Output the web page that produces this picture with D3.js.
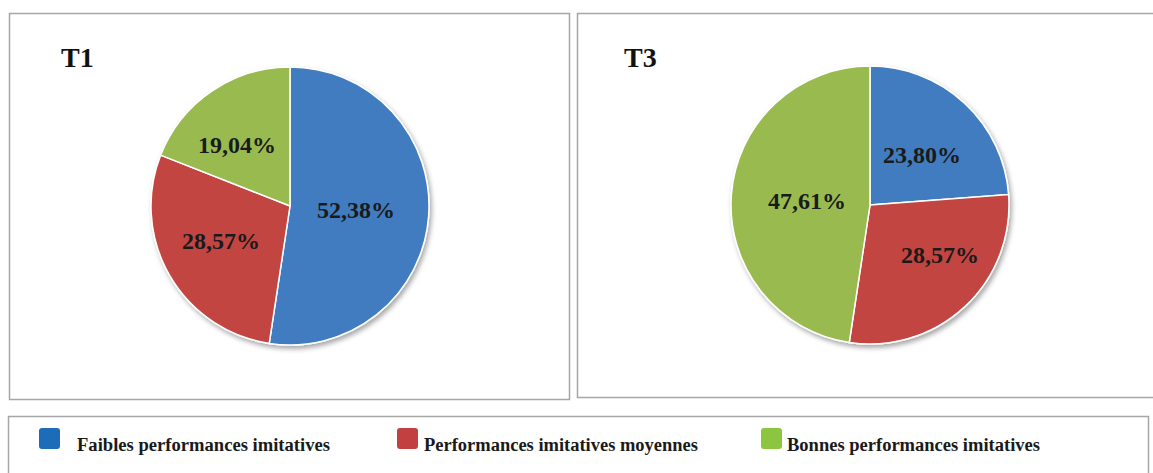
<!DOCTYPE html>
<html>
<head>
<meta charset="utf-8">
<script src="https://cdn.jsdelivr.net/npm/d3@7"></script>
<style>
  body { margin: 0; background: #fff; }
  svg { display: block; }
</style>
</head>
<body>
<svg id="chart" width="1153" height="473"></svg>
<script>
var categories = ['Faibles performances imitatives', 'Performances imitatives moyennes', 'Bonnes performances imitatives'];
var valuesT1 = [52.38, 28.57, 19.04];
var valuesT3 = [23.80, 28.57, 47.61];
var labelsT1 = ['52,38%', '28,57%', '19,04%'];
var labelsT3 = ['23,80%', '28,57%', '47,61%'];

var sliceColors = ['#3f7bbf', '#c24543', '#99ba4f'];
var legendColors = ['#1c6cb9', '#c2403f', '#8cc640'];
var serif = '"Liberation Serif", "Times New Roman", serif';

var svg = d3.select('#chart');

var defs = svg.append('defs');
var f = defs.append('filter').attr('id', 'shadow')
  .attr('x', '-20%').attr('y', '-20%').attr('width', '140%').attr('height', '140%');
f.append('feDropShadow').attr('dx', 2).attr('dy', 3).attr('stdDeviation', 2.5)
  .attr('flood-color', '#000').attr('flood-opacity', 0.35);

var panels = [
  { title: 'T1', values: valuesT1, labels: labelsT1, box: [9.5, 13.5, 560, 386], cx: 290, cy: 206, tx: 61, ty: 67,
    labelPos: [[356, 212], [221, 243], [237, 147]] },
  { title: 'T3', values: valuesT3, labels: labelsT3, box: [577.5, 13.5, 580, 384], cx: 870, cy: 205, tx: 624, ty: 67,
    labelPos: [[922, 157], [940, 257], [807, 203]] }
];

var pie = d3.pie().sort(null).value(function (d) { return d; });
var arc = d3.arc().innerRadius(0).outerRadius(139);

panels.forEach(function (p) {
  svg.append('rect')
    .attr('x', p.box[0]).attr('y', p.box[1])
    .attr('width', p.box[2]).attr('height', p.box[3])
    .attr('fill', '#fff').attr('stroke', '#a6a6a6').attr('stroke-width', 1.5);

  svg.append('text')
    .attr('x', p.tx).attr('y', p.ty)
    .attr('font-family', serif).attr('font-weight', 'bold').attr('font-size', 28)
    .attr('fill', '#111').text(p.title);

  var g = svg.append('g').attr('transform', 'translate(' + p.cx + ',' + p.cy + ')');
  var arcs = pie(p.values);
  g.append('g').attr('filter', 'url(#shadow)')
    .selectAll('path').data(arcs).join('path')
    .attr('d', arc)
    .attr('fill', function (d, i) { return sliceColors[i]; })
    .attr('stroke', '#fff').attr('stroke-width', 1.5);

  svg.selectAll(null).data(p.labels).join('text')
    .attr('x', function (d, i) { return p.labelPos[i][0]; })
    .attr('y', function (d, i) { return p.labelPos[i][1]; })
    .attr('text-anchor', 'middle').attr('dominant-baseline', 'middle')
    .attr('font-family', serif).attr('font-weight', 'bold').attr('font-size', 24)
    .attr('fill', '#1a1a1a')
    .text(function (d) { return d; });
});

// legend
svg.append('rect')
  .attr('x', 8.5).attr('y', 416.5).attr('width', 1140).attr('height', 70)
  .attr('fill', '#fff').attr('stroke', '#a6a6a6').attr('stroke-width', 1.5);

var legendX = [39, 397, 761];
var textX = [77, 424, 787];
var textW = [253, 274, 253];
var lg = svg.selectAll('g.legend').data(categories).join('g').attr('class', 'legend');
lg.append('rect')
  .attr('x', function (d, i) { return legendX[i]; }).attr('y', 428)
  .attr('width', 21).attr('height', 21).attr('rx', 3)
  .attr('fill', function (d, i) { return legendColors[i]; });
lg.append('text')
  .attr('x', function (d, i) { return textX[i]; }).attr('y', 451)
  .attr('font-family', serif).attr('font-weight', 'bold').attr('font-size', 18)
  .attr('textLength', function (d, i) { return textW[i]; })
  .attr('lengthAdjust', 'spacingAndGlyphs')
  .attr('fill', '#1a1a1a')
  .text(function (d) { return d; });
</script>
</body>
</html>
